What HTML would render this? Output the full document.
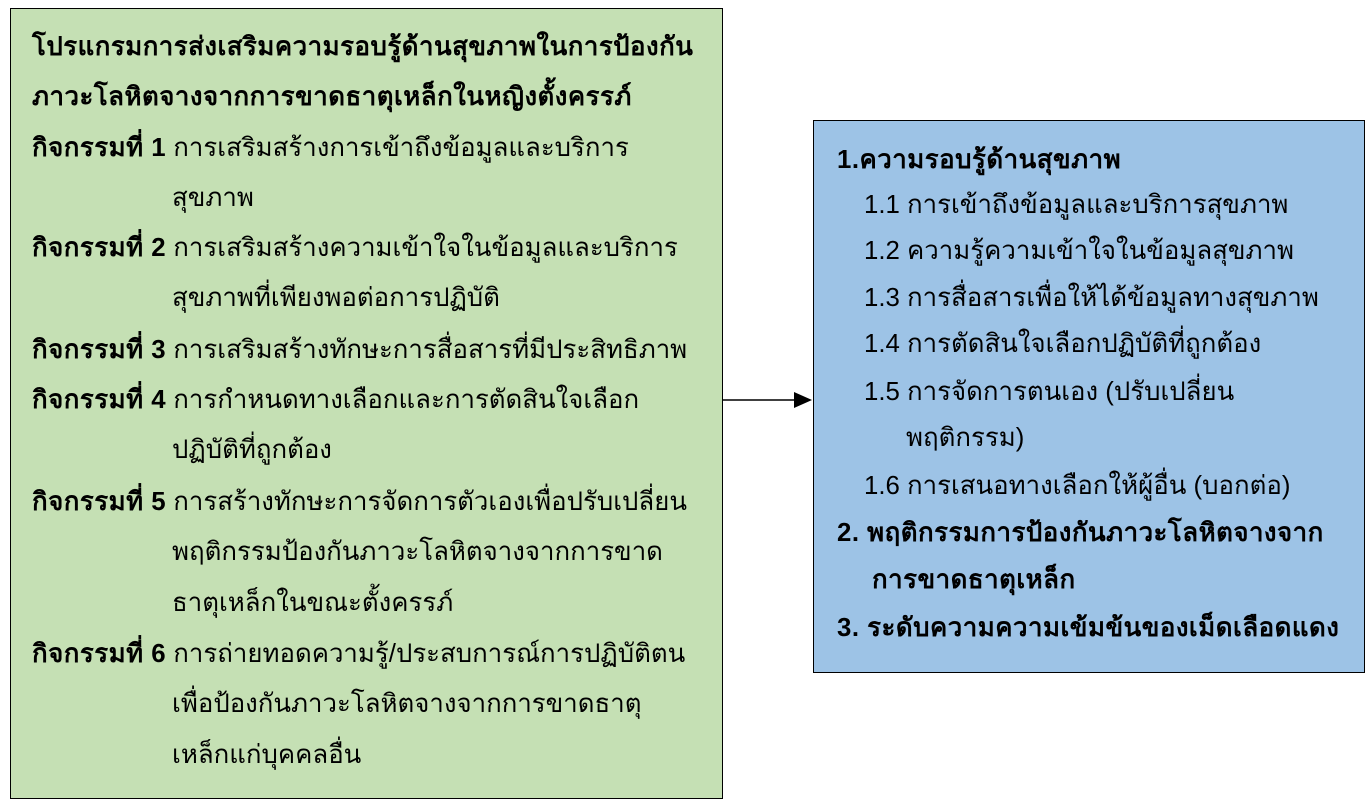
<!DOCTYPE html>
<html><head><meta charset="utf-8"><style>
body{margin:0;width:1370px;height:806px;background:#fff;position:relative;overflow:hidden;font-family:"Liberation Sans","DejaVu Sans",sans-serif;color:#000}
.box{position:absolute;border:1px solid #000}
.l{position:absolute;white-space:nowrap;font-size:25.8px;line-height:30px}
b{font-weight:bold;letter-spacing:0.5px}
</style></head><body>
<div class="box" style="left:10px;top:8px;width:711px;height:789px;background:#c5e0b4"></div>
<div class="box" style="left:813px;top:120px;width:550px;height:551px;background:#9dc3e6"></div>
<svg style="position:absolute;left:0;top:0" width="1370" height="806">
<line x1="722" y1="400" x2="796" y2="400" stroke="#000" stroke-width="1.5"/>
<polygon points="812,400 794,392 794,408" fill="#000"/>
</svg>
<div class="l" style="left:32px;top:32px"><b>โปรแกรมการส่งเสริมความรอบรู้ด้านสุขภาพในการป้องกัน</b></div>
<div class="l" style="left:32px;top:82px"><b>ภาวะโลหิตจางจากการขาดธาตุเหล็กในหญิงตั้งครรภ์</b></div>
<div class="l" style="left:32px;top:133px"><b>กิจกรรมที่ 1</b> การเสริมสร้างการเข้าถึงข้อมูลและบริการ</div>
<div class="l" style="left:172px;top:183px">สุขภาพ</div>
<div class="l" style="left:32px;top:233px"><b>กิจกรรมที่ 2</b> การเสริมสร้างความเข้าใจในข้อมูลและบริการ</div>
<div class="l" style="left:172px;top:283px">สุขภาพที่เพียงพอต่อการปฏิบัติ</div>
<div class="l" style="left:32px;top:335px"><b>กิจกรรมที่ 3</b> การเสริมสร้างทักษะการสื่อสารที่มีประสิทธิภาพ</div>
<div class="l" style="left:32px;top:385px"><b>กิจกรรมที่ 4</b> การกำหนดทางเลือกและการตัดสินใจเลือก</div>
<div class="l" style="left:172px;top:435px">ปฏิบัติที่ถูกต้อง</div>
<div class="l" style="left:32px;top:487px"><b>กิจกรรมที่ 5</b> การสร้างทักษะการจัดการตัวเองเพื่อปรับเปลี่ยน</div>
<div class="l" style="left:172px;top:537px">พฤติกรรมป้องกันภาวะโลหิตจางจากการขาด</div>
<div class="l" style="left:172px;top:588px">ธาตุเหล็กในขณะตั้งครรภ์</div>
<div class="l" style="left:32px;top:639px"><b>กิจกรรมที่ 6</b> การถ่ายทอดความรู้/ประสบการณ์การปฏิบัติตน</div>
<div class="l" style="left:172px;top:689px">เพื่อป้องกันภาวะโลหิตจางจากการขาดธาตุ</div>
<div class="l" style="left:172px;top:740px">เหล็กแก่บุคคลอื่น</div>

<div class="l" style="left:837px;top:145px"><b>1.ความรอบรู้ด้านสุขภาพ</b></div>
<div class="l" style="left:864px;top:190px">1.1 การเข้าถึงข้อมูลและบริการสุขภาพ</div>
<div class="l" style="left:864px;top:236px">1.2 ความรู้ความเข้าใจในข้อมูลสุขภาพ</div>
<div class="l" style="left:864px;top:283px">1.3 การสื่อสารเพื่อให้ได้ข้อมูลทางสุขภาพ</div>
<div class="l" style="left:864px;top:329px">1.4 การตัดสินใจเลือกปฏิบัติที่ถูกต้อง</div>
<div class="l" style="left:864px;top:377px">1.5 การจัดการตนเอง (ปรับเปลี่ยน</div>
<div class="l" style="left:906px;top:423px">พฤติกรรม)</div>
<div class="l" style="left:864px;top:471px">1.6 การเสนอทางเลือกให้ผู้อื่น (บอกต่อ)</div>
<div class="l" style="left:837px;top:518px"><b>2. พฤติกรรมการป้องกันภาวะโลหิตจางจาก</b></div>
<div class="l" style="left:872px;top:565px"><b>การขาดธาตุเหล็ก</b></div>
<div class="l" style="left:837px;top:613px"><b>3. ระดับความความเข้มข้นของเม็ดเลือดแดง</b></div>
</body></html>
